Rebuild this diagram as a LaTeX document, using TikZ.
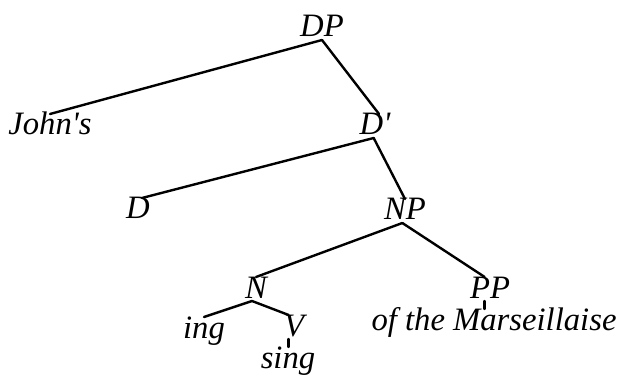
\documentclass[tikz,border=0pt]{standalone}
\usepackage{fontspec}
\newfontfamily\lab{Liberation Serif}
\begin{document}
\begin{tikzpicture}[x=0.75pt,y=-0.75pt,
  lbl/.style={inner sep=0pt, outer sep=0pt, anchor=base,
    font=\lab\itshape\fontsize{24.5}{28}\selectfont,
    text height=15.75pt, text depth=2.25pt},
  edge/.style={line width=1.8pt, line cap=round, line join=round}]
\useasboundingbox (0,0) rectangle (623,377);
\node[lbl] (DP)    at (322,37)  {DP};
\node[lbl] (John)  at (50,135)  {John's};
\node[lbl] (Dbar)  at (375,135) {D'};
\node[lbl] (D)     at (138,219) {D};
\node[lbl] (NP)    at (405,220) {NP};
\node[lbl] (N)     at (256,298) {N};
\node[lbl] (PP)    at (490,298) {PP};
\node[lbl] (ing)   at (204,338) {ing};
\node[lbl] (V)     at (294,336) {V};
\node[lbl] (sing)  at (288,368) {sing};
\node[lbl] (Mars)  at (494,330) {of the Marseillaise};
\draw[edge] (DP.south) -- (John.north);
\draw[edge] (DP.south) -- ([xshift=3]Dbar.north);
\draw[edge] ([xshift=-1]Dbar.south) -- ([xshift=3]D.north);
\draw[edge] ([xshift=-1]Dbar.south) -- (NP.north);
\draw[edge] ([xshift=-2]NP.south) -- (N.north);
\draw[edge] ([xshift=-2]NP.south) -- ([xshift=-4]PP.north);
\draw[edge] ([xshift=-3]N.south) -- (ing.north);
\draw[edge] ([xshift=-3]N.south) -- ([xshift=-4]V.north);
\draw[edge] ([xshift=-4]V.south) -- ([xshift=-4]V.south |- sing.north);
\draw[edge] ([xshift=-4]PP.south) -- ([xshift=-4]PP.south |- Mars.north);
\end{tikzpicture}
\end{document}
